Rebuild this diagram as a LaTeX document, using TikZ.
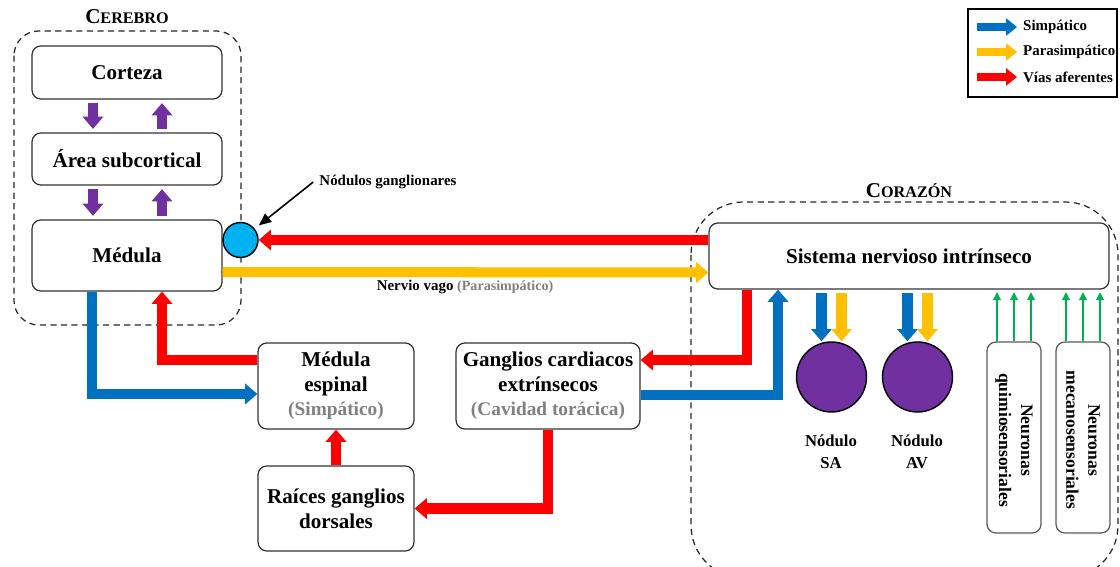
\documentclass[tikz,border=0pt]{standalone}
\usepackage{fontspec}
\setmainfont{Liberation Serif}
\usepackage{tikz}
\usetikzlibrary{arrows.meta,calc}

\definecolor{azul}{HTML}{0070C0}
\definecolor{amarillo}{HTML}{FFC000}
\definecolor{rojo}{HTML}{FF0000}
\definecolor{morado}{HTML}{7030A0}
\definecolor{celeste}{HTML}{00B0F0}
\definecolor{verde}{HTML}{00B050}
\definecolor{gris}{HTML}{808080}

\begin{document}
\begin{tikzpicture}[x=0.02cm,y=-0.02cm]
  \tikzstyle{caja}=[fill=white,draw=black!80,line width=0.7pt,rounded corners=5pt,align=center,font=\bfseries\fontsize{12}{14}\selectfont,inner sep=2pt]
  \tikzstyle{marco}=[draw=black!85,line width=0.7pt,dash pattern=on 3.5pt off 2.5pt]
  \tikzstyle{flecha}=[line width=5.7pt,-{Triangle[width=11.5pt,length=7pt]}]
  \tikzstyle{flechaley}=[line width=4.6pt,-{Triangle[width=9.6pt,length=6.2pt]}]
  \tikzstyle{sensor}=[verde,line width=0.8pt,-{Triangle[width=4.5pt,length=4.5pt]}]
  \tikzstyle{nodo}=[circle,draw=black,line width=0.8pt,inner sep=0pt]
  \tikzstyle{etiqueta}=[font=\bfseries\fontsize{9.5}{12.5}\selectfont,align=center]
  \tikzstyle{leyendatxt}=[anchor=west,font=\bfseries\fontsize{8.5}{10}\selectfont]

  \useasboundingbox (0,0) rectangle (1120,567);

  % marcos
  \draw[marco,rounded corners=14pt] (14,31) rectangle (241,325);
  \draw[marco,rounded corners=30pt] (691,202) rectangle (1118,578);
  \node[font=\bfseries] (cerebro) at (127,17) {\fontsize{12}{14}\selectfont C\fontsize{9.2}{14}\selectfont EREBRO};
  \node[font=\bfseries] (corazon) at (909,191) {\fontsize{12}{14}\selectfont C\fontsize{9.2}{14}\selectfont ORAZÓN};

  % cajas
  \node[caja,minimum width=3.8cm,minimum height=1.06cm] (corteza) at (127,72.5) {Corteza};
  \node[caja,minimum width=3.8cm,minimum height=1.04cm] (area)    at (127,159)  {Área subcortical};
  \node[caja,minimum width=3.8cm,minimum height=1.42cm] (medula)  at (127,255.5) {Médula};
  \node[nodo,fill=celeste,minimum size=0.7cm] (nodulos) at (240.5,240) {};

  \node[caja,minimum width=3.12cm,minimum height=1.72cm] (espinal)  at (336,386)   {Médula\\espinal\\{\color{gris}\fontsize{11}{14}\selectfont(Simpático)}};
  \node[caja,minimum width=3.12cm,minimum height=1.7cm]  (raices)   at (336,508.5) {Raíces ganglios\\dorsales};
  \node[caja,minimum width=3.68cm,minimum height=1.72cm] (ganglios) at (548,386)   {Ganglios cardiacos\\extrínsecos\\{\color{gris}\fontsize{11}{14}\selectfont(Cavidad torácica)}};

  \node[caja,minimum width=8cm,minimum height=1.32cm] (sistema) at (909,256) {Sistema nervioso intrínseco};
  \node[nodo,fill=morado,minimum size=1.4cm] (sa) at (831.5,377) {};
  \node[nodo,fill=morado,minimum size=1.4cm] (av) at (917.5,377) {};
  \node[etiqueta] (lblsa) at (831,452) {Nódulo\\SA};
  \node[etiqueta] (lblav) at (917,452) {Nódulo\\AV};

  \node[caja,draw=black!65,minimum width=1.08cm,minimum height=3.82cm] (quimio) at (1014,437.5) {};
  \node[caja,draw=black!65,minimum width=1.08cm,minimum height=3.82cm] (meca)   at (1083,437.5) {};
  \node[rotate=-90,etiqueta,font=\bfseries\fontsize{10}{12.5}\selectfont] (txtquimio) at (1014,440) {Neuronas\\quimiosensoriales};
  \node[rotate=-90,etiqueta,font=\bfseries\fontsize{10}{12.5}\selectfont] (txtmeca)   at (1083,440) {Neuronas\\mecanosensoriales};

  % etiquetas
  \node[font=\bfseries\fontsize{8.5}{10}\selectfont] (lblnod) at (388,182) {Nódulos ganglionares};
  \node[font=\bfseries\fontsize{8.5}{10}\selectfont] (vago) at (465,287) {Nervio vago {\color{gris}\fontsize{8}{10}\selectfont(Parasimpático)}};

  % leyenda
  \node[draw=black,line width=1pt,minimum width=2.98cm,minimum height=1.76cm] (leyenda) at (1042.5,53) {};
  \node[leyendatxt] (lsim)  at (1017,27) {Simpático};
  \node[leyendatxt] (lpara) at (1017,52) {Parasimpático};
  \node[leyendatxt] (lafer) at (1017,77) {Vías aferentes};
  \draw[flechaley,azul]     ($(lsim.west)+(-40,0)$)  -- (lsim.west);
  \draw[flechaley,amarillo] ($(lpara.west)+(-40,0)$) -- (lpara.west);
  \draw[flechaley,rojo]     ($(lafer.west)+(-40,0)$) -- (lafer.west);

  % cerebro
  \draw[flecha,morado,shorten <=2pt,shorten >=2pt] ($(corteza.south)+(-34,0)$) -- ($(area.north)+(-34,0)$);
  \draw[flecha,morado,shorten <=2pt,shorten >=2pt] ($(area.north)+(35,0)$) -- ($(corteza.south)+(35,0)$);
  \draw[flecha,morado,shorten <=2pt,shorten >=2pt] ($(area.south)+(-34,0)$) -- ($(medula.north)+(-34,0)$);
  \draw[flecha,morado,shorten <=2pt,shorten >=2pt] ($(medula.north)+(35,0)$) -- ($(area.south)+(35,0)$);

  % vias largas
  \draw[flecha,rojo] (sistema.west |- nodulos.east) -- (nodulos.east);
  \draw[flecha,amarillo] ($(medula.east)+(0,16.5)$) -- ($(sistema.west)+(0,16.5)$);
  \draw[flecha,azul] ($(medula.south)+(-35,0)$) |- ($(espinal.west)+(0,8)$);
  \draw[flecha,rojo] ($(espinal.west)+(0,-26)$) -| ($(medula.south)+(35,0)$);
  \draw[flecha,rojo] (raices.north) -- (espinal.south);
  \draw[flecha,rojo] (ganglios.south) |- (raices.east);
  \draw[flecha,rojo] ($(sistema.south)+(-162,0)$) |- ($(ganglios.east)+(0,-26)$);
  \draw[flecha,azul] ($(ganglios.east)+(0,9)$) -| ($(sistema.south)+(-131,0)$);

  % corazon
  \coordinate (saA) at ($(sa.north)+(-10,0)$);
  \coordinate (saB) at ($(sa.north)+(10,0)$);
  \coordinate (avA) at ($(av.north)+(-10,0)$);
  \coordinate (avB) at ($(av.north)+(10,0)$);
  \draw[flecha,azul,shorten <=2pt]     (saA |- sistema.south) -- (saA);
  \draw[flecha,amarillo,shorten <=2pt] (saB |- sistema.south) -- (saB);
  \draw[flecha,azul,shorten <=2pt]     (avA |- sistema.south) -- (avA);
  \draw[flecha,amarillo,shorten <=2pt] (avB |- sistema.south) -- (avB);

  \foreach \dx in {-17,0,17} {
    \coordinate (q) at ($(quimio.north)+(\dx,0)$);
    \draw[sensor,shorten >=1.5pt] (q) -- (q |- sistema.south);
    \coordinate (m) at ($(meca.north)+(\dx,0)$);
    \draw[sensor,shorten >=1.5pt] (m) -- (m |- sistema.south);
  }

  \draw[line width=0.9pt,-{Triangle[width=6pt,length=7pt]},shorten >=3pt] (lblnod.west) -- (nodulos);
\end{tikzpicture}
\end{document}
